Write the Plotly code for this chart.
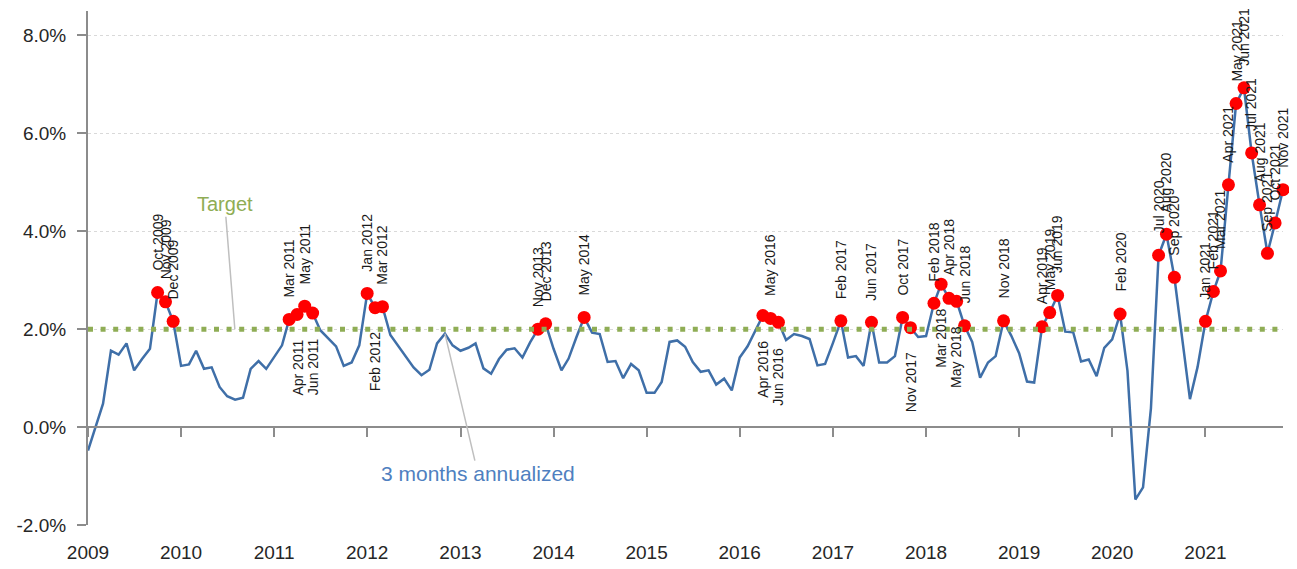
import plotly.graph_objects as go
import pandas as pd

# ---------------- data (3-month annualized inflation, %) ----------------
v2009 = [-0.48, 0.00, 0.48, 1.56, 1.48, 1.71, 1.16, 1.39, 1.60, 2.75, 2.56, 2.16]
v2010 = [1.25, 1.28, 1.56, 1.19, 1.22, 0.82, 0.63, 0.56, 0.60, 1.19, 1.35, 1.19]
v2011 = [1.43, 1.67, 2.20, 2.30, 2.47, 2.33, 1.98, 1.81, 1.65, 1.25, 1.32, 1.67]
v2012 = [2.73, 2.44, 2.46, 1.88, 1.67, 1.43, 1.22, 1.06, 1.17, 1.71, 1.91, 1.67]
v2013 = [1.56, 1.62, 1.71, 1.20, 1.09, 1.39, 1.58, 1.61, 1.42, 1.73, 2.00, 2.11]
v2014 = [1.60, 1.16, 1.40, 1.84, 2.24, 1.93, 1.90, 1.33, 1.35, 1.00, 1.29, 1.16]
v2015 = [0.70, 0.70, 0.92, 1.74, 1.77, 1.64, 1.33, 1.13, 1.16, 0.87, 0.99, 0.75]
v2016 = [1.42, 1.65, 1.95, 2.28, 2.22, 2.14, 1.78, 1.90, 1.86, 1.80, 1.26, 1.29]
v2017 = [1.72, 2.17, 1.42, 1.45, 1.25, 2.14, 1.32, 1.32, 1.45, 2.24, 2.03, 1.84]
v2018 = [1.86, 2.53, 2.92, 2.63, 2.57, 2.07, 1.74, 1.01, 1.32, 1.45, 2.17, 1.87]
v2019 = [1.51, 0.93, 0.91, 2.05, 2.34, 2.69, 1.95, 1.94, 1.34, 1.38, 1.04, 1.62]
v2020 = [1.79, 2.31, 1.15, -1.48, -1.23, 0.38, 3.51, 3.94, 3.06, 1.80, 0.57, 1.23]
v2021 = [2.16, 2.77, 3.19, 4.95, 6.61, 6.93, 5.60, 4.54, 3.55, 4.17, 4.85]

inflation_3m = (v2009 + v2010 + v2011 + v2012 + v2013 + v2014 + v2015 +
                v2016 + v2017 + v2018 + v2019 + v2020 + v2021)
dates = pd.date_range("2009-01-01", periods=len(inflation_3m), freq="MS")

TARGET = 2.0
below_labels = ["Apr 2011", "Jun 2011", "Feb 2012", "Apr 2016", "Jun 2016",
                "Nov 2017", "Mar 2018", "May 2018"]
year_ticks = list(range(2009, 2022))
y_ticks = [-2, 0, 2, 4, 6, 8]
y_ticktext = ["-2.0%", "0.0%", "2.0%", "4.0%", "6.0%", "8.0%"]
X_START, X_END = "2009-01-01", "2021-11-01"
Y_MIN, Y_MAX = -2.0, 8.5

# ---------------- styling ----------------
FONT = "Liberation Sans Narrow, Liberation Sans, Arial, sans-serif"
BLUE = "#3F6FA8"
GREEN = "#8FAD55"
AXIS = "#8C8C8C"

marked = [(d, v) for d, v in zip(dates, inflation_3m) if v >= TARGET]
mx = [d for d, _ in marked]
my = [v for _, v in marked]

fig = go.Figure()

fig.add_trace(go.Scatter(
    x=[X_START, X_END], y=[TARGET, TARGET], mode="lines",
    line=dict(color=GREEN, width=5, dash="5px,7.6px"),
    xaxis="x2", hoverinfo="skip"))

fig.add_trace(go.Scatter(
    x=dates, y=inflation_3m, mode="lines",
    line=dict(color=BLUE, width=2.5)))

fig.add_trace(go.Scatter(
    x=mx, y=my, mode="markers", cliponaxis=False,
    marker=dict(color="#FF0000", size=13)))

annotations = []
for d, v in marked:
    lab = d.strftime("%b %Y")
    below = lab in below_labels
    annotations.append(dict(
        x=d, y=v, text=lab, showarrow=False, textangle=-90,
        xanchor="center", yanchor="top" if below else "bottom",
        yshift=-23 if below else 20,
        font=dict(family=FONT, size=14, color="#1A1A1A")))

annotations.append(dict(
    x="2010-07-31", y=TARGET, text="Target", showarrow=True,
    arrowhead=0, arrowwidth=1.5, arrowcolor="#BFBFBF", ax=-10, ay=-125,
    font=dict(family=FONT, size=20, color=GREEN)))

nov12 = list(dates).index(pd.Timestamp("2012-11-01"))
annotations.append(dict(
    x=dates[nov12], y=inflation_3m[nov12], text="3 months annualized",
    showarrow=True, arrowhead=0, arrowwidth=1.5, arrowcolor="#BFBFBF",
    ax=33, ay=140,
    font=dict(family=FONT, size=21, color="#4F7FC0")))

zero_pos = (0 - Y_MIN) / (Y_MAX - Y_MIN)
tickdates = [f"{y}-01-01" for y in year_ticks]

# page body has an 8px default margin: size/margins compensate for it
fig.update_layout(
    width=1289, height=561,
    margin=dict(l=80, r=14, t=3, b=44),
    plot_bgcolor="white", paper_bgcolor="white",
    showlegend=False,
    font=dict(family=FONT, color="#262626"),
    annotations=annotations,
    xaxis=dict(
        type="date", range=[X_START, X_END], automargin=False,
        tickvals=tickdates, ticktext=[str(y) for y in year_ticks],
        ticks="", showline=False, showgrid=False, zeroline=False,
        ticklabelstandoff=14,
        tickfont=dict(family=FONT, size=19, color="#262626")),
    xaxis2=dict(
        type="date", range=[X_START, X_END], overlaying="x",
        anchor="free", position=zero_pos, automargin=False,
        tickvals=tickdates, showticklabels=False,
        ticks="outside", ticklen=9, tickwidth=2, tickcolor=AXIS,
        showline=True, linecolor=AXIS, linewidth=2,
        showgrid=False, zeroline=False),
    yaxis=dict(
        range=[Y_MIN, Y_MAX], automargin=False,
        tickvals=y_ticks, ticktext=y_ticktext,
        ticks="outside", ticklen=9, tickwidth=2, tickcolor=AXIS,
        showline=True, linecolor=AXIS, linewidth=2,
        showgrid=True, gridcolor="#D9D9D9", griddash="dot", gridwidth=1,
        zeroline=False, ticklabelstandoff=7,
        tickfont=dict(family=FONT, size=19, color="#262626")),
)

fig.write_html("out.html")
